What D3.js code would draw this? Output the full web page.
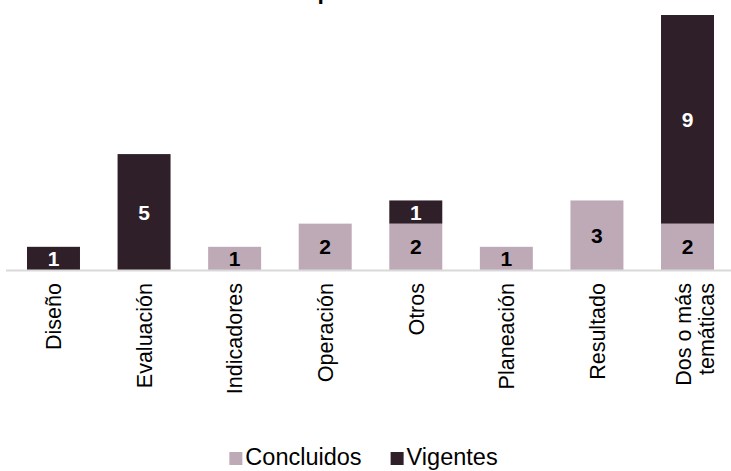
<!DOCTYPE html>
<html>
<head>
<meta charset="utf-8">
<script src="https://cdn.jsdelivr.net/npm/d3@7"></script>
<style>
  body { margin: 0; background: #fff; }
  svg { display: block; font-family: "Liberation Sans", Arial, sans-serif; }
</style>
</head>
<body>
<svg id="chart" width="731" height="471"></svg>
<script>
// data
const categories = ["Diseño", "Evaluación", "Indicadores", "Operación", "Otros", "Planeación", "Resultado", "Dos o más temáticas"];
const concluidos = [0, 0, 1, 2, 2, 1, 3, 2];
const vigentes = [1, 5, 0, 0, 1, 0, 0, 9];
const seriesNames = ["Concluidos", "Vigentes"];
const colors = { Concluidos: "#bea9b6", Vigentes: "#2e1f28" };
const labelColors = { Concluidos: "#000", Vigentes: "#fff" };

const width = 731, height = 471;
const svg = d3.select("#chart");

const x = d3.scaleBand()
  .domain(categories)
  .range([8.2, 732.8])
  .paddingInner(0.415)
  .paddingOuter(0.2075);

const y = d3.scaleLinear()
  .domain([0, 11])
  .range([270, 15]);

// title (only the bottom of the last line shows in the frame)
svg.append("text")
  .attr("x", 345)
  .attr("y", -1.5)
  .attr("text-anchor", "middle")
  .style("font-size", "23px")
  .style("font-weight", "bold")
  .text("cumplimiento");

const table = categories.map((c, i) => ({ cat: c, Concluidos: concluidos[i], Vigentes: vigentes[i] }));
const stacked = d3.stack().keys(seriesNames)(table);

const layers = svg.selectAll("g.layer")
  .data(stacked)
  .join("g")
  .attr("class", "layer")
  .attr("fill", d => colors[d.key]);

layers.selectAll("rect")
  .data(d => d.filter(p => p[1] - p[0] > 0))
  .join("rect")
  .attr("x", d => x(d.data.cat))
  .attr("width", x.bandwidth())
  .attr("y", d => y(d[1]))
  .attr("height", d => y(d[0]) - y(d[1]));

// value labels
stacked.forEach(layer => {
  svg.append("g").selectAll("text")
    .data(layer.filter(p => p[1] - p[0] > 0))
    .join("text")
    .attr("x", d => x(d.data.cat) + x.bandwidth() / 2)
    .attr("y", d => (y(d[0]) + y(d[1])) / 2)
    .attr("dy", "0.36em")
    .attr("text-anchor", "middle")
    .style("font-size", "21px")
    .style("font-weight", "bold")
    .attr("fill", labelColors[layer.key])
    .text(d => d[1] - d[0]);
});

// axis line
svg.append("line")
  .attr("x1", 6).attr("x2", 731)
  .attr("y1", y(0) + 0.5).attr("y2", y(0) + 0.5)
  .attr("stroke", "#d9d9d9")
  .attr("stroke-width", 2);

// category labels, rotated
const lines = { "Dos o más temáticas": ["Dos o más", "temáticas"] };
categories.forEach(c => {
  const parts = lines[c] || [c];
  const cx = x(c) + x.bandwidth() / 2 + (parts.length - 1) * 7;
  const t = svg.append("text")
    .attr("transform", `translate(${cx},283) rotate(-90)`)
    .attr("text-anchor", "end")
    .style("font-size", "21.5px")
    .attr("fill", "#000");
  parts.forEach((p, i) => {
    t.append("tspan")
      .attr("x", 0)
      .attr("y", (i - (parts.length - 1) / 2) * 23)
      .attr("dy", "0.36em")
      .text(p);
  });
});

// legend
const legend = svg.append("g");
let lx = 0;
seriesNames.forEach((s, i) => {
  const g = legend.append("g").attr("transform", `translate(${lx},0)`);
  g.append("rect")
    .attr("x", 0).attr("y", -13)
    .attr("width", 13).attr("height", 13)
    .attr("fill", colors[s]);
  const t = g.append("text")
    .attr("x", 16).attr("y", 0)
    .style("font-size", "23.5px")
    .text(s);
  lx += 16 + t.node().getComputedTextLength() + 29;
});
const lw = lx - 29;
legend.attr("transform", `translate(${(width - lw) / 2 - 2},465)`);
</script>
</body>
</html>
